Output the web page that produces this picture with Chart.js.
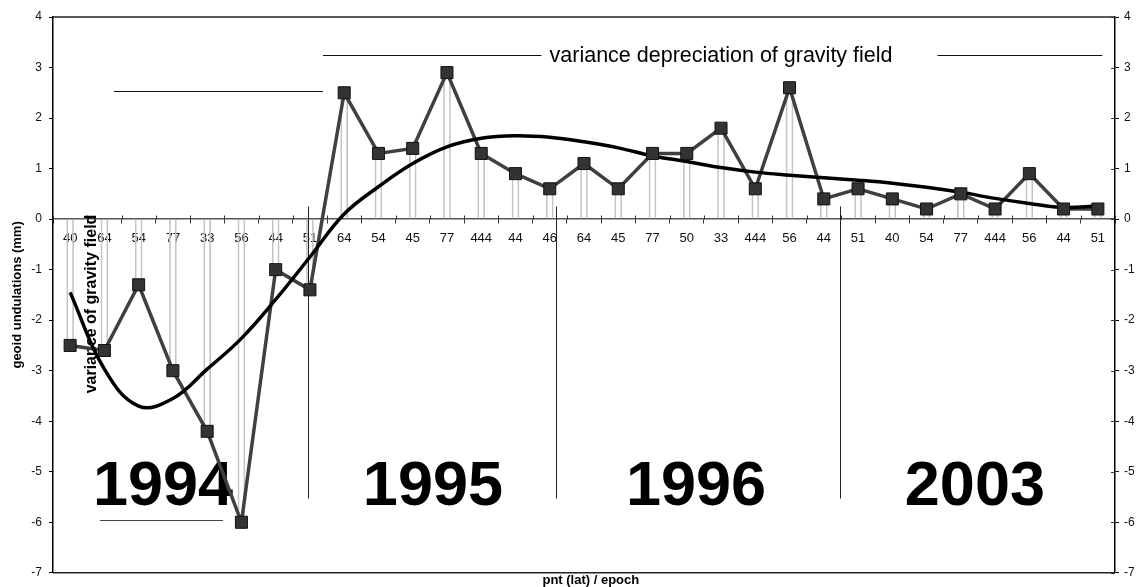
<!DOCTYPE html>
<html>
<head>
<meta charset="utf-8">
<title>geoid undulations</title>
<script src="https://cdn.jsdelivr.net/npm/chart.js@4.4.1/dist/chart.umd.min.js"></script>
<style>
    html, body { margin: 0; padding: 0; background: #fff; }
    #wrap { width: 1139px; height: 587px; }
</style>
</head>
<body>
<div id="wrap"><canvas id="geoidChart"></canvas></div>
<script>
// Data
const pointLabels = ['40', '64', '54', '77', '33', '56', '44', '51', '64', '54', '45', '77', '444', '44', '46',
    '64', '45', '77', '50', '33', '444', '56', '44', '51', '40', '54', '77', '444', '56', '44', '51'];
const undulations = [-2.5, -2.6, -1.3, -3.0, -4.2, -6.0, -1.0, -1.4, 2.5, 1.3, 1.4, 2.9, 1.3, 0.9, 0.6,
    1.1, 0.6, 1.3, 1.3, 1.8, 0.6, 2.6, 0.4, 0.6, 0.4, 0.2, 0.5, 0.2, 0.9, 0.2, 0.2];
// trend curve at each point
const trend = [-1.45, -2.97, -3.70, -3.55, -2.97, -2.36, -1.59, -0.75, 0.10, 0.64, 1.10, 1.43, 1.60, 1.65, 1.62,
    1.53, 1.41, 1.25, 1.14, 1.02, 0.93, 0.87, 0.82, 0.77, 0.71, 0.63, 0.53, 0.41, 0.31, 0.23, 0.26];
const yTicks = [4, 3, 2, 1, 0, -1, -2, -3, -4, -5, -6, -7];
const epochs = ['1994', '1995', '1996', '2003'];

const font = "'Liberation Sans', Arial, sans-serif";
Chart.defaults.font.family = font;

// Annotations (in category index / mm units)
const notes = {
    epochX: [2.71, 10.59, 18.27, 26.41],
    epochBase: -5.65,
    separators: [6.94, 14.18, 22.47],
    sepTop: 0.25,
    sepBottom: -5.53,
    rules: [
        { from: 1.28, to: 7.38, at: 2.53, color: '#111' },
        { from: 7.38, to: 13.76, at: 3.24, color: '#111' },
        { from: 25.32, to: 30.13, at: 3.24, color: '#111' },
        { from: 0.87, to: 4.46, at: -5.95, color: '#444' }
    ]
};

const decorations = {
    id: 'decorations',
    beforeDatasetsDraw(chart) {
        const { ctx, chartArea: a, scales: { x, y } } = chart;
        const px = i => x.getPixelForValue(i);
        const py = v => y.getPixelForValue(v);
        const y0 = Math.round(py(0)) + 0.5;
        ctx.save();

        // top / bottom frame
        ctx.strokeStyle = '#222';
        ctx.lineWidth = 1.5;
        ctx.beginPath();
        ctx.moveTo(a.left, a.top); ctx.lineTo(a.right, a.top);
        ctx.moveTo(a.left, a.bottom); ctx.lineTo(a.right, a.bottom);
        ctx.stroke();

        // upper half of the category ticks, inner ticks of right axis
        ctx.strokeStyle = '#333';
        ctx.lineWidth = 1;
        ctx.beginPath();
        for (let i = 0; i <= pointLabels.length; i++) {
            const xx = Math.round(px(i - 0.5)) + 0.5;
            ctx.moveTo(xx, y0 - 4); ctx.lineTo(xx, y0);
        }
        yTicks.forEach(v => {
            const yy = Math.round(py(v)) + 0.5;
            ctx.moveTo(a.right - 4, yy); ctx.lineTo(a.right, yy);
        });
        ctx.stroke();

        // epoch separators and rules
        ctx.strokeStyle = '#222';
        ctx.beginPath();
        notes.separators.forEach(s => {
            const xx = Math.round(px(s)) + 0.5;
            ctx.moveTo(xx, py(notes.sepTop)); ctx.lineTo(xx, py(notes.sepBottom));
        });
        ctx.stroke();
        notes.rules.forEach(r => {
            const yy = Math.round(py(r.at)) + 0.5;
            ctx.strokeStyle = r.color;
            ctx.beginPath();
            ctx.moveTo(px(r.from), yy); ctx.lineTo(px(r.to), yy);
            ctx.stroke();
        });

        // year labels
        ctx.fillStyle = '#000';
        ctx.font = 'bold 63px ' + font;
        ctx.textAlign = 'center';
        ctx.textBaseline = 'alphabetic';
        epochs.forEach((e, i) => ctx.fillText(e, px(notes.epochX[i]), py(notes.epochBase)));

        // texts
        ctx.font = '21.5px ' + font;
        ctx.textBaseline = 'middle';
        ctx.fillText('variance depreciation of gravity field', px(19.0), py(3.22));

        ctx.save();
        ctx.translate(px(0.64), py(-1.68));
        ctx.rotate(-Math.PI / 2);
        ctx.font = 'bold 16px ' + font;
        ctx.fillText('variance of gravity field', 0, 0);
        ctx.restore();

        // axis titles
        ctx.font = 'bold 13px ' + font;
        ctx.save();
        ctx.translate(17, (a.top + a.bottom) / 2);
        ctx.rotate(-Math.PI / 2);
        ctx.fillText('geoid undulations (mm)', 0, 0);
        ctx.restore();
        ctx.textBaseline = 'top';
        ctx.fillText('pnt (lat) / epoch', px(15.2), a.bottom + 1);

        ctx.restore();
    }
};

const yAxis = (position, width, padding) => ({
    position: position,
    min: -7,
    max: 4,
    afterFit: s => { s.width = width; },
    afterBuildTicks: s => { s.ticks = yTicks.map(v => ({ value: v })); },
    grid: { drawOnChartArea: false, drawTicks: true, tickLength: 4, color: '#000' },
    border: { display: true, color: '#000', width: 1.5 },
    ticks: { padding: padding, color: '#111', font: { size: 12 } }
});

new Chart(document.getElementById('geoidChart'), {
    data: {
        labels: pointLabels,
        datasets: [{
            type: 'line',
            data: undulations,
            showLine: false,
            pointStyle: 'rect',
            pointRadius: 8.5,
            pointBackgroundColor: '#333',
            pointBorderColor: '#111',
            pointBorderWidth: 1,
            order: 1
        }, {
            type: 'line',
            data: trend,
            borderColor: '#000',
            borderWidth: 3.5,
            pointRadius: 0,
            tension: 0.4,
            order: 2
        }, {
            type: 'line',
            data: undulations,
            borderColor: '#404040',
            borderWidth: 3.5,
            pointRadius: 0,
            tension: 0,
            order: 3
        }, {
            type: 'bar',
            data: undulations,
            backgroundColor: 'rgba(0,0,0,0)',
            borderColor: '#c4c4c4',
            borderWidth: 1,
            barThickness: 7,
            order: 4
        }]
    },
    options: {
        responsive: true,
        maintainAspectRatio: false,
        animation: false,
        layout: { padding: { top: 17, bottom: 11, left: 0, right: 0 } },
        plugins: {
            legend: { display: false },
            tooltip: { enabled: false }
        },
        scales: {
            x: {
                type: 'category',
                offset: true,
                position: { y: 0 },
                afterFit: s => { s.height = 0; },
                grid: { offset: true, drawOnChartArea: false, drawTicks: true, tickLength: 4, color: '#333' },
                border: { display: true, color: '#555', width: 1.5 },
                ticks: { padding: 8, color: '#111', font: { size: 13 }, autoSkip: false, maxRotation: 0 }
            },
            y: yAxis('left', 53, 7),
            y2: yAxis('right', 24, 5)
        }
    },
    plugins: [decorations]
});
</script>
</body>
</html>
